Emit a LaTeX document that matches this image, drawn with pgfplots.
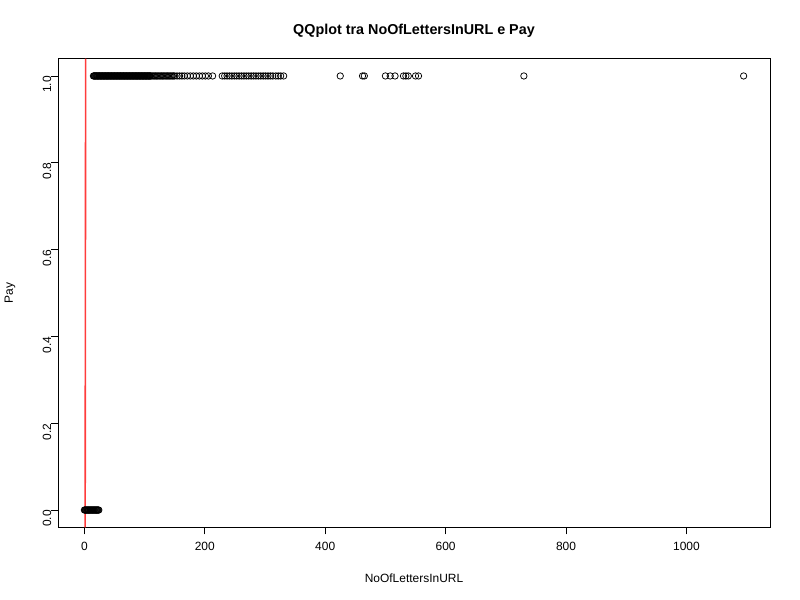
\documentclass[border=0pt]{standalone}
\usepackage{pgfplots}
\pgfplotsset{compat=1.18}
\usepackage{fontspec}
\setmainfont{Liberation Sans}
\definecolor{qqred}{RGB}{255,60,60}
\begin{document}
\fontsize{12}{14}\selectfont
\begin{tikzpicture}
\path[use as bounding box] (0bp,0bp) rectangle (800bp,600bp);
\begin{axis}[
  at={(58bp,72.6bp)}, anchor=south west,
  scale only axis, width=712bp, height=468.8bp,
  xmin=-43.8, xmax=1138.8, ymin=-0.04, ymax=1.04,
  axis line style={black, line width=0.75bp},
  tick align=outside, tick pos=left,
  major tick length=7bp,
  tick style={black, line width=0.75bp},
  xtick={0,200,400,600,800,1000},
  ytick={0,0.2,0.4,0.6,0.8,1.0},
  scaled ticks=false,
  /pgf/number format/assume math mode=true,
  /pgf/number format/1000 sep={},
  xticklabel style={anchor=north, inner sep=0pt, yshift=-7.4bp, font=\fontsize{12}{14}\selectfont},
  yticklabel style={rotate=90, anchor=base, inner sep=0pt, xshift=-8.5bp, font=\fontsize{12}{14}\selectfont,
    /pgf/number format/fixed, /pgf/number format/fixed zerofill, /pgf/number format/precision=1},
  xticklabel={\pgfmathprintnumber[fixed,precision=0,1000 sep={}]{\tick}},
]
% y = 0 quantiles
\addplot[only marks, mark=o, mark size=3.2bp, mark options={line width=0.75bp, black}] coordinates {
(0,0) (1,0) (2,0) (3,0) (4,0) (5,0) (6,0) (7,0) (8,0) (9,0) (10,0) (11,0) (12,0)
(13,0) (14,0) (15,0) (16,0) (17,0) (18,0) (19,0) (20,0) (21,0) (22,0) (23,0) (24,0)
};
% y = 1 quantiles
\addplot[only marks, mark=o, mark size=3.2bp, mark options={line width=0.75bp, black}] coordinates {
(15,1) (16,1) (17,1) (18,1) (19,1) (20,1) (21,1) (22,1) (23,1) (24,1) (25,1) (26,1) (27,1) (28,1) (29,1)
(30,1) (31,1) (32,1) (33,1) (34,1) (35,1) (36,1) (37,1) (38,1) (39,1) (40,1) (41,1) (42,1) (43,1) (44,1)
(45,1) (46,1) (47,1) (48,1) (49,1) (50,1) (51,1) (52,1) (53,1) (54,1) (55,1) (56,1) (57,1) (58,1) (59,1)
(60,1) (61,1) (62,1) (63,1) (64,1) (65,1) (66,1) (67,1) (68,1) (69,1) (70,1) (71,1) (72,1) (73,1) (74,1)
(75,1) (76,1) (77,1) (78,1) (79,1) (80,1) (81,1) (82,1) (83,1) (84,1) (85,1) (86,1) (87,1) (88,1) (89,1)
(90,1) (91,1) (92,1) (93,1) (94,1) (95,1) (96,1) (97,1) (98,1) (99,1) (100,1) (101,1) (102,1) (103,1) (104,1)
(105,1) (106,1) (107,1) (108,1) (109,1) (110,1) (112,1) (114,1) (116,1) (118,1) (120,1) (122,1) (124,1)
(126,1) (128,1) (130,1) (132,1) (134,1) (136,1) (138,1) (140,1) (142,1) (144,1) (146,1) (148,1) (150,1)
(154,1) (158,1) (162,1) (166,1) (171,1) (176,1) (181,1) (186,1) (191,1) (196,1) (201,1) (206,1) (213,1)
(229,1) (233,1) (237,1) (241,1) (245,1) (249,1) (253,1) (257,1) (261,1) (265,1) (269,1) (273,1) (277,1)
(281,1) (285,1) (289,1) (293,1) (297,1) (301,1) (305,1) (309,1) (313,1) (318,1) (322,1) (326,1) (331,1)
(425,1) (462,1) (465,1) (500,1) (508,1) (516,1) (530,1) (534,1) (538,1) (550,1) (555,1) (730,1) (1095,1)
};
\addplot[draw=qqred, no marks, line width=1.6bp] coordinates {(1.3,-0.04) (2.1,1.04)};
\end{axis}
\node[font=\fontsize{14.4}{16}\selectfont\bfseries] at (414bp,569bp) {QQplot tra NoOfLettersInURL e Pay};
\node at (414bp,22bp) {NoOfLettersInURL};
\node[rotate=90] at (10bp,307bp) {Pay};
\end{tikzpicture}
\end{document}
